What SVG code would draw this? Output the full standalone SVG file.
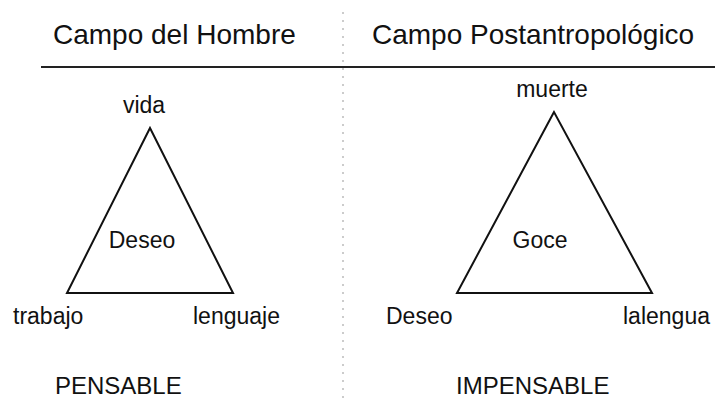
<svg xmlns="http://www.w3.org/2000/svg" width="715" height="404" viewBox="0 0 715 404">
<style>
text { font-family: "Liberation Sans", Arial, sans-serif; fill: #111; }
.title { font-size: 28px; }
.lbl { font-size: 23px; }
.foot { font-size: 24px; }
.tri { fill: none; stroke: #111; stroke-width: 2; stroke-linejoin: miter; }
</style>
<rect width="715" height="404" fill="#fff"/>
<g id="layout">
<line x1="343" y1="12" x2="343" y2="404" stroke="#999" stroke-width="1" stroke-dasharray="2 6"/>
<line x1="41" y1="67" x2="715" y2="67" stroke="#222" stroke-width="2.2"/>
<text class="title" x="53" y="44">Campo del Hombre</text>
<text class="title" x="372" y="44">Campo Postantropológico</text>
</g>
<g id="connectors">
<polygon class="tri" points="150,128 67,293 233,293"/>
<polygon class="tri" points="554,112 457,293 652,293"/>
</g>
<g id="left">
<text class="lbl" x="144" y="113" text-anchor="middle">vida</text>
<text class="lbl" x="142" y="248" text-anchor="middle">Deseo</text>
<text class="lbl" x="13" y="324">trabajo</text>
<text class="lbl" x="193" y="324">lenguaje</text>
<text class="foot" x="55" y="394">PENSABLE</text>
</g>
<g id="right">
<text class="lbl" x="552" y="97" text-anchor="middle">muerte</text>
<text class="lbl" x="540" y="248" text-anchor="middle">Goce</text>
<text class="lbl" x="386" y="324">Deseo</text>
<text class="lbl" x="623" y="324">lalengua</text>
<text class="foot" x="456" y="394">IMPENSABLE</text>
</g>
</svg>
